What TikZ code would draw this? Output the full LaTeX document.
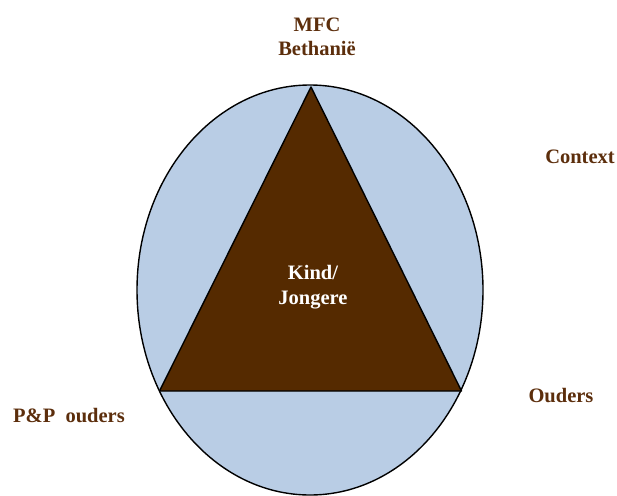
\documentclass[tikz,border=0pt]{standalone}
\usepackage{fontspec}
\setmainfont{Liberation Serif}
\definecolor{ringblue}{HTML}{B9CDE5}
\definecolor{kidbrown}{HTML}{552A00}
\definecolor{labelbrown}{HTML}{5C2E0C}
\tikzset{
  lbl/.style={text=labelbrown, font=\bfseries\fontsize{20.5}{25}\selectfont, align=center, inner sep=0pt, anchor=base},
  kidlbl/.style={lbl, text=white}
}
\begin{document}
\begin{tikzpicture}[x=1pt, y=-1pt]

\useasboundingbox (0,0) rectangle (617,495);


\draw[fill=ringblue, line width=1.4pt] (310,290) ellipse [x radius=173, y radius=205];


\coordinate (top) at (311,87);
\coordinate (left) at (159.5,391);
\coordinate (right) at (461.5,391);

\draw[fill=kidbrown, line width=1.4pt, line join=round] (top) -- (right) -- (left) -- cycle;



\node[lbl] (mfc) at (317,31) {MFC};
\node[lbl] (beth) at (317,56) {Bethanië};

\node[lbl] (context) at (580,163) {Context};
\node[lbl] (ouders) at (561,402) {Ouders};
\node[lbl] (pp) at (69,422) {P\&P\ \ ouders};

\node[kidlbl] (kind) at (313,279) {Kind/};
\node[kidlbl] (jong) at (313,304) {Jongere};

\end{tikzpicture}
\end{document}
